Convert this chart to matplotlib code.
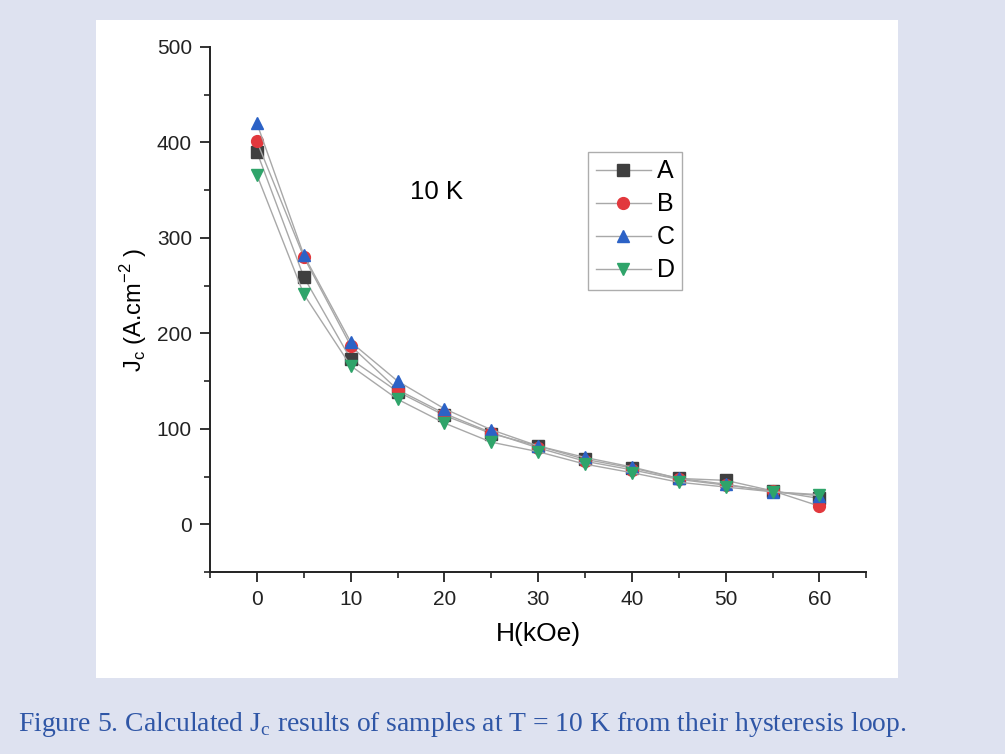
import matplotlib.pyplot as plt
from matplotlib.patches import Rectangle
from matplotlib.ticker import MultipleLocator

# Jc values (A.cm^-2) vs applied field H (kOe)
H = [0, 5, 10, 15, 20, 25, 30, 35, 40, 45, 50, 55, 60]
jc_A = [390, 259, 173, 139, 114, 95, 82, 68, 59, 48, 46, 35, 27]
jc_B = [401, 280, 187, 141, 116, 96, 80, 66, 57, 47, 41, 35, 19]
jc_C = [420, 282, 191, 150, 121, 99, 82, 70, 60, 48, 42, 34, 30]
jc_D = [366, 241, 166, 131, 106, 86, 76, 63, 54, 44, 39, 34, 31]
sample_names = ['A', 'B', 'C', 'D']

markers = ['s', 'o', '^', 'v']
colors = ['#3f3f3f', '#e2383d', '#2c62c6', '#2fa46a']

plt.rcParams['font.family'] = ['Liberation Sans', 'DejaVu Sans']

fig = plt.figure(figsize=(10.05, 7.54), dpi=100)
fig.patch.set_facecolor('#dee2f0')

# white panel behind the plot
fig.patches.append(Rectangle((96 / 1005, 1 - 678 / 754), 802 / 1005, 658 / 754,
                             transform=fig.transFigure, facecolor='white',
                             edgecolor='none', zorder=-1))

ax = fig.add_axes([0.209, 0.2414, 0.653, 0.6963])
ax.set_facecolor('none')
ax.set_zorder(1)

for vals, name, m, c in zip([jc_A, jc_B, jc_C, jc_D], sample_names, markers, colors):
    ax.plot(H, vals, color='#a8a8a8', lw=1.0, marker=m, markersize=8.5,
            markerfacecolor=c, markeredgecolor=c, label=name)

ax.set_xlim(-5, 65)
ax.set_ylim(-50, 500)
ax.xaxis.set_major_locator(MultipleLocator(10))
ax.xaxis.set_minor_locator(MultipleLocator(5))
ax.yaxis.set_major_locator(MultipleLocator(100))
ax.yaxis.set_minor_locator(MultipleLocator(50))
ax.set_yticks([0, 100, 200, 300, 400, 500])

for s in ['top', 'right']:
    ax.spines[s].set_visible(False)
for s in ['left', 'bottom']:
    ax.spines[s].set_linewidth(1.4)
    ax.spines[s].set_color('#222222')

ax.tick_params(which='major', direction='out', length=7, width=1.3, labelsize=15,
               colors='#222222', pad=6)
ax.tick_params(which='minor', direction='out', length=4, width=1.2, colors='#222222')

ax.set_xlabel('H(kOe)', fontsize=19, labelpad=9)
ax.set_ylabel(r'J$_\mathregular{c}$ (A.cm$^{\mathregular{-2}}$ )', fontsize=17, labelpad=6)

ax.text(19.2, 348, '10 K', fontsize=18.5, ha='center', va='center')

leg = ax.legend(loc='upper left', bbox_to_anchor=(0.576, 0.8), fontsize=18,
                frameon=True, fancybox=False, edgecolor='#999999',
                handlelength=2.2, labelspacing=0.36, borderpad=0.3,
                handletextpad=0.25, borderaxespad=0)
leg.get_frame().set_linewidth(1.0)

fig.text(0.018, 0.0385,
         r'Figure 5. Calculated J$_\mathregular{c}$ results of samples at T = 10 K from their hysteresis loop.',
         fontsize=19.9, color='#2f56a6', family=['Liberation Serif'], va='center', ha='left')

fig.savefig('out.png', dpi=100, facecolor=fig.get_facecolor())
